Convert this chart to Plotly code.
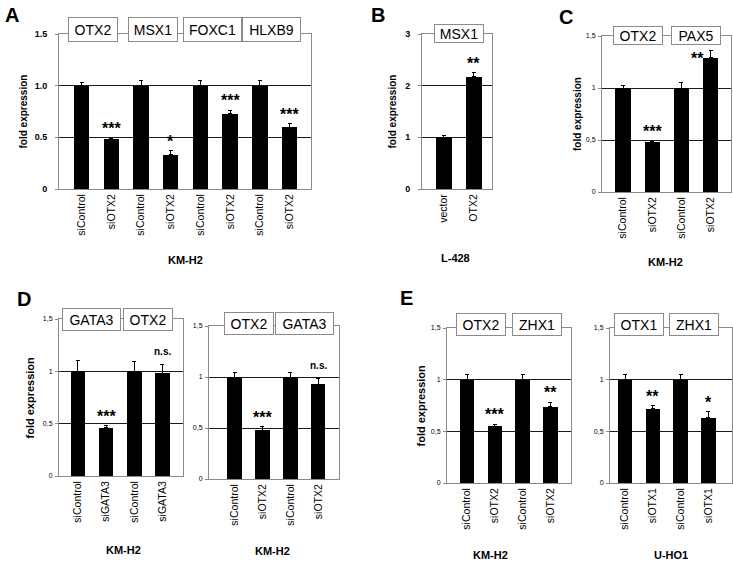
import plotly.graph_objects as go

W, H = 733, 565

# ---------------- data ----------------
A_labels = ["siControl", "siOTX2"] * 4
A_values = [1.0, 0.48, 1.0, 0.33, 1.0, 0.73, 1.0, 0.60]
A_errors = [0.03, 0.01, 0.05, 0.04, 0.05, 0.03, 0.05, 0.03]
A_sig = ["", "***", "", "*", "", "***", "", "***"]
A_genes = ["OTX2", "MSX1", "FOXC1", "HLXB9"]
A_cell = "KM-H2"

B_labels = ["vector", "OTX2"]
B_values = [1.0, 2.17]
B_errors = [0.04, 0.08]
B_sig = ["", "**"]
B_genes = ["MSX1"]
B_cell = "L-428"

C_labels = ["siControl", "siOTX2", "siControl", "siOTX2"]
C_values = [1.0, 0.48, 1.0, 1.29]
C_errors = [0.02, 0.01, 0.05, 0.07]
C_sig = ["", "***", "", "**"]
C_genes = ["OTX2", "PAX5"]
C_cell = "KM-H2"

D1_labels = ["siControl", "siGATA3", "siControl", "siGATA3"]
D1_values = [1.0, 0.46, 1.0, 0.98]
D1_errors = [0.10, 0.02, 0.09, 0.09]
D1_sig = ["", "***", "", "n.s."]
D1_genes = ["GATA3", "OTX2"]
D1_cell = "KM-H2"

D2_labels = ["siControl", "siOTX2", "siControl", "siOTX2"]
D2_values = [1.0, 0.48, 1.0, 0.93]
D2_errors = [0.04, 0.03, 0.04, 0.06]
D2_sig = ["", "***", "", "n.s."]
D2_genes = ["OTX2", "GATA3"]
D2_cell = "KM-H2"

E1_labels = ["siControl", "siOTX2", "siControl", "siOTX2"]
E1_values = [1.0, 0.55, 1.0, 0.74]
E1_errors = [0.05, 0.02, 0.05, 0.04]
E1_sig = ["", "***", "", "**"]
E1_genes = ["OTX2", "ZHX1"]
E1_cell = "KM-H2"

E2_labels = ["siControl", "siOTX1", "siControl", "siOTX1"]
E2_values = [1.0, 0.72, 1.0, 0.63]
E2_errors = [0.05, 0.03, 0.05, 0.06]
E2_sig = ["", "**", "", "*"]
E2_genes = ["OTX1", "ZHX1"]
E2_cell = "U-HO1"

ticks_dot = [0, 0.5, 1.0, 1.5]
ticks_dot_text = ["0", "0.5", "1.0", "1.5"]
ticks_comma_text = ["0", "0,5", "1", "1,5"]
ticks_B = [0, 1, 2, 3]
ticks_B_text = ["0", "1", "2", "3"]

YTITLE = "fold expression"

# ---------------- layout / style ----------------
FONT = "Liberation Sans, Arial, sans-serif"
GRAY = "#8a8a8a"

def px_x(p):
    return p / W

def px_y(p):
    return 1 - p / H

panels = [
    dict(labels=A_labels, values=A_values, errors=A_errors, sig=A_sig, genes=A_genes, cell=A_cell,
         px=(59, 311), py=(34, 189), xr=(-0.76, 7.72), yr=(0, 1.5),
         tv=ticks_dot, tt=ticks_dot_text, tbold=True, boxh=24, boxshift=4.5, boxdx=-0.1,
         ytitle=(23, 10), cellpos=(185, 260), letter=("A", 12, 15)),
    dict(labels=B_labels, values=B_values, errors=B_errors, sig=B_sig, genes=B_genes, cell=B_cell,
         px=(422, 492), py=(34, 189), xr=(-0.73, 1.6), yr=(0, 3),
         tv=ticks_B, tt=ticks_B_text, tbold=True, boxh=18, boxshift=1, boxdx=0,
         ytitle=(392, 10), cellpos=(455, 258), letter=("B", 378, 15)),
    dict(labels=C_labels, values=C_values, errors=C_errors, sig=C_sig, genes=C_genes, cell=C_cell,
         px=(602, 731), py=(36, 192), xr=(-0.72, 3.7), yr=(0, 1.5),
         tv=ticks_dot, tt=ticks_comma_text, tbold=False, boxh=18, boxshift=0.5, boxdx=0,
         ytitle=(577, 10), cellpos=(665, 262), letter=("C", 566, 17)),
    dict(labels=D1_labels, values=D1_values, errors=D1_errors, sig=D1_sig, genes=D1_genes, cell=D1_cell,
         px=(59, 183), py=(319, 476), xr=(-0.67, 3.73), yr=(0, 1.5),
         tv=ticks_dot, tt=ticks_comma_text, tbold=False, boxh=22, boxshift=-0.5, boxdx=0,
         ytitle=(29, 11), cellpos=(123, 550), letter=("D", 24, 299)),
    dict(labels=D2_labels, values=D2_values, errors=D2_errors, sig=D2_sig, genes=D2_genes, cell=D2_cell,
         px=(209, 339), py=(326, 479), xr=(-0.92, 3.75), yr=(0, 1.5),
         tv=ticks_dot, tt=ticks_comma_text, tbold=False, boxh=22, boxshift=2.5, boxdx=0,
         ytitle=None, cellpos=(272, 551), letter=None),
    dict(labels=E1_labels, values=E1_values, errors=E1_errors, sig=E1_sig, genes=E1_genes, cell=E1_cell,
         px=(447, 571), py=(328, 483), xr=(-0.72, 3.74), yr=(0, 1.5),
         tv=ticks_dot, tt=ticks_comma_text, tbold=False, boxh=22, boxshift=3.5, boxdx=0,
         ytitle=(420, 11), cellpos=(490, 555), letter=("E", 406, 298)),
    dict(labels=E2_labels, values=E2_values, errors=E2_errors, sig=E2_sig, genes=E2_genes, cell=E2_cell,
         px=(610, 732), py=(328, 483), xr=(-0.54, 3.85), yr=(0, 1.5),
         tv=ticks_dot, tt=ticks_comma_text, tbold=False, boxh=22, boxshift=3.5, boxdx=0,
         ytitle=None, cellpos=(671, 555), letter=None),
]

fig = go.Figure()
annotations = []
layout_axes = {}

for i, p in enumerate(panels, start=1):
    xa = "x" if i == 1 else f"x{i}"
    ya = "y" if i == 1 else f"y{i}"
    xkey = "xaxis" if i == 1 else f"xaxis{i}"
    ykey = "yaxis" if i == 1 else f"yaxis{i}"
    n = len(p["values"])
    xs = list(range(n))

    fig.add_trace(go.Bar(
        x=xs, y=p["values"], xaxis=xa, yaxis=ya, width=0.52,
        marker=dict(color="black", line=dict(width=0)),
        error_y=dict(type="data", symmetric=False, array=p["errors"],
                     arrayminus=[0] * n, color="black", thickness=1, width=2),
        showlegend=False, hoverinfo="skip",
    ))

    layout_axes[xkey] = dict(
        domain=[px_x(p["px"][0]), px_x(p["px"][1])], anchor=ya, range=list(p["xr"]),
        tickvals=xs, ticktext=p["labels"], tickangle=-90, ticks="",
        tickfont=dict(family=FONT, size=10.5, color="black"),
        showline=True, linecolor=GRAY, linewidth=1, mirror=True, automargin=False,
        showgrid=False, zeroline=False, fixedrange=True,
    )
    if p["tbold"]:
        tt = [f"<b>{t}</b>" for t in p["tt"]]
        tf = dict(family=FONT, size=9, color="black")
        stand = 6
    else:
        tt = p["tt"]
        tf = dict(family=FONT, size=7, color="black")
        stand = 1
    layout_axes[ykey] = dict(
        domain=[px_y(p["py"][1]), px_y(p["py"][0])], anchor=xa, range=list(p["yr"]),
        tickvals=p["tv"], ticktext=tt, tickfont=tf, ticks="outside", ticklen=3,
        tickcolor=GRAY, ticklabelstandoff=stand, automargin=False,
        showline=True, linecolor=GRAY, linewidth=1, mirror=True,
        showgrid=True, gridcolor="#1a1a1a", gridwidth=1, zeroline=False, fixedrange=True,
    )

    # significance marks
    for j, s in enumerate(p["sig"]):
        if not s:
            continue
        top = p["values"][j] + p["errors"][j]
        if s == "n.s.":
            annotations.append(dict(x=j, y=top, xref=xa, yref=ya, text=f"<b>{s}</b>",
                                    showarrow=False, yanchor="bottom", yshift=5,
                                    font=dict(family=FONT, size=10, color="black")))
        else:
            xshift = 0
            ytop = top
            if i == 3 and j == 3:
                # placed beside the bar (box above)
                xshift = -13
                ytop = top - 0.17
            annotations.append(dict(x=j, y=ytop, xref=xa, yref=ya, text=f"<b>{s}</b>",
                                    showarrow=False, yanchor="bottom", yshift=-1, xshift=xshift,
                                    font=dict(family=FONT, size=16, color="black")))

    # gene boxes
    for g, gene in enumerate(p["genes"]):
        annotations.append(dict(
            x=2 * g + 0.5 + p["boxdx"], y=p["yr"][1], xref=xa, yref=ya, text=gene, showarrow=False,
            xanchor="center", yanchor="middle", yshift=p["boxshift"],
            width=12 + 9 * len(gene), height=p["boxh"] - 1, borderpad=0,
            bgcolor="white", bordercolor=GRAY, borderwidth=1,
            font=dict(family=FONT, size=14, color="black")))

    # y title
    if p["ytitle"]:
        tx, fs = p["ytitle"]
        annotations.append(dict(
            x=px_x(tx), y=px_y((p["py"][0] + p["py"][1]) / 2), xref="paper", yref="paper",
            text=f"<b>{YTITLE}</b>", textangle=-90, showarrow=False,
            xanchor="center", yanchor="middle", font=dict(family=FONT, size=fs, color="black")))

    # cell line label
    cx, cy = p["cellpos"]
    annotations.append(dict(x=px_x(cx), y=px_y(cy), xref="paper", yref="paper",
                            text=f"<b>{p['cell']}</b>", showarrow=False,
                            xanchor="center", yanchor="middle",
                            font=dict(family=FONT, size=11, color="black")))

    # panel letter
    if p["letter"]:
        L, lx, ly = p["letter"]
        annotations.append(dict(x=px_x(lx), y=px_y(ly), xref="paper", yref="paper",
                                text=f"<b>{L}</b>", showarrow=False,
                                xanchor="center", yanchor="middle",
                                font=dict(family=FONT, size=20, color="black")))

fig.update_layout(
    template="none",
    width=W, height=H, margin=dict(l=0, r=0, t=0, b=0, autoexpand=False),
    paper_bgcolor="white", plot_bgcolor="white",
    annotations=annotations, bargap=0, showlegend=False,
    **layout_axes,
)

fig.write_html("out.html", config={"displayModeBar": False},
               post_script="document.body.style.margin='0';document.body.style.overflow='hidden';")
